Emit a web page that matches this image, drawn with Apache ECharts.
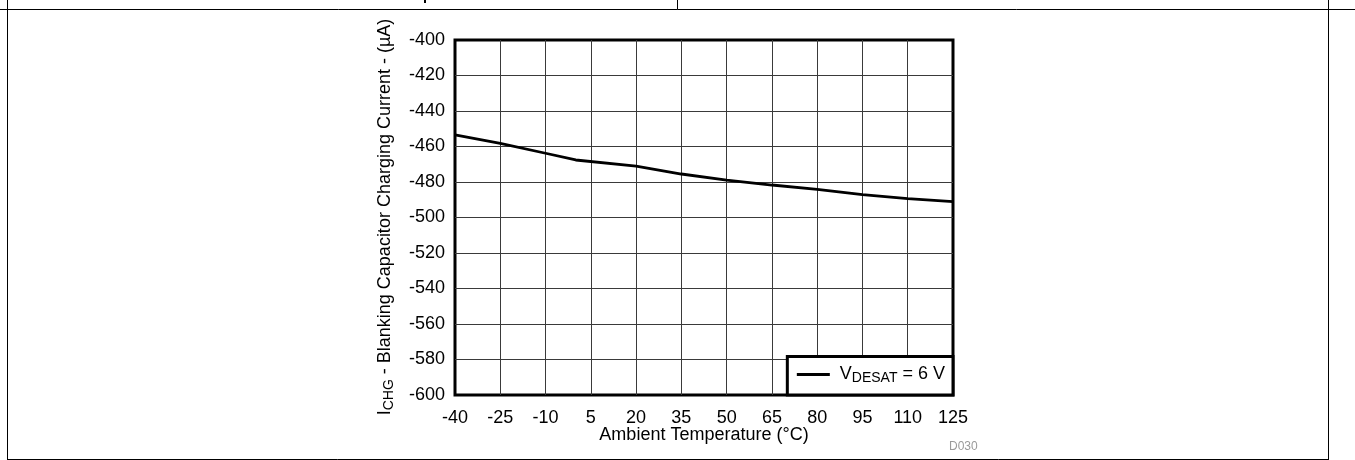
<!DOCTYPE html>
<html>
<head>
<meta charset="utf-8">
<script src="https://cdn.jsdelivr.net/npm/echarts@6/dist/echarts.min.js"></script>
<style>
html,body{margin:0;padding:0;background:#fff;}
#c{width:1355px;height:460px;}
</style>
</head>
<body>
<div id="c"></div>
<script>
// ---- data ----
const temperatures = [-40, -25, -10, 0, 20, 35, 50, 65, 80, 95, 110, 125];
const chargingCurrent = [-453.5, -458.2, -463.8, -467.6, -471.0, -475.5, -478.9, -481.7, -484.1, -487.1, -489.4, -491.0];
const xTickLabels = [-40, -25, -10, 5, 20, 35, 50, 65, 80, 95, 110, 125];
const yTickLabels = [-400, -420, -440, -460, -480, -500, -520, -540, -560, -580, -600];
const seriesName = 'VDESAT = 6 V';

const X0 = xTickLabels[0];
const seriesData = temperatures.map((t, i) => [t - X0, chargingCurrent[i]]);

const FONT = 'Liberation Sans, Arial, sans-serif';
const chart = echarts.init(document.getElementById('c'), null, {renderer: 'canvas'});

const option = {
  animation: false,
  backgroundColor: '#fff',
  grid: {
    left: 455, top: 40, width: 498, height: 355,
    show: true, borderColor: '#000', borderWidth: 3, backgroundColor: 'transparent'
  },
  xAxis: {
    type: 'value',
    min: 0, max: xTickLabels[xTickLabels.length - 1] - X0, interval: 15,
    axisLine: {show: false},
    axisTick: {show: false},
    axisLabel: {
      margin: 14, color: '#000', fontSize: 18, fontFamily: FONT,
      formatter: v => String(v + X0)
    },
    splitLine: {show: true, showMinLine: false, showMaxLine: false, lineStyle: {color: '#3a3a3a', width: 1}}
  },
  yAxis: {
    type: 'value',
    min: yTickLabels[yTickLabels.length - 1], max: yTickLabels[0], interval: 20,
    axisLine: {show: false},
    axisTick: {show: false},
    axisLabel: {margin: 10, color: '#000', fontSize: 18, fontFamily: FONT},
    splitLine: {show: true, showMinLine: false, showMaxLine: false, lineStyle: {color: '#3a3a3a', width: 1}}
  },
  legend: {
    show: true,
    right: 402, bottom: 65,
    orient: 'horizontal',
    backgroundColor: '#fff',
    borderColor: '#000', borderWidth: 3, borderRadius: 0,
    padding: [9, 8, 9.5, 9.5],
    itemWidth: 33, itemHeight: 14, itemGap: 10,
    data: [{name: seriesName, icon: 'path://M0,0 L33,0 L33,3 L0,3 Z', itemStyle: {color: '#000'}}],
    formatter: () => '{f|V}{s|DESAT}{m| = 6 V}',
    textStyle: {
      color: '#000', fontFamily: FONT,
      rich: {
        f: {fontSize: 18, lineHeight: 22, fontFamily: FONT, color: '#000', padding: [0, 0, 0, 5]},
        m: {fontSize: 18, lineHeight: 22, fontFamily: FONT, color: '#000'},
        s: {fontSize: 14, lineHeight: 15, verticalAlign: 'bottom', fontFamily: FONT, color: '#000'}
      }
    },
    z: 10
  },
  series: [{
    name: seriesName,
    type: 'line',
    data: seriesData,
    showSymbol: false,
    symbol: 'none',
    smooth: false,
    lineStyle: {color: '#000', width: 2.8},
    itemStyle: {color: '#000'},
    z: 3
  }],
  graphic: [
    // page frame
    {type: 'line', shape: {x1: 0, y1: 9.5, x2: 1355, y2: 9.5}, style: {stroke: '#000', lineWidth: 1}},
    {type: 'line', shape: {x1: 677.5, y1: 0, x2: 677.5, y2: 9.5}, style: {stroke: '#000', lineWidth: 1}},
    {type: 'line', shape: {x1: 7.5, y1: 0, x2: 7.5, y2: 460}, style: {stroke: '#000', lineWidth: 1}},
    {type: 'line', shape: {x1: 1328.5, y1: 0, x2: 1328.5, y2: 460}, style: {stroke: '#000', lineWidth: 1}},
    {type: 'line', shape: {x1: 7.5, y1: 459.5, x2: 1328.5, y2: 459.5}, style: {stroke: '#000', lineWidth: 1}},
    {type: 'rect', shape: {x: 424, y: 0, width: 2, height: 3}, style: {fill: '#000'}},
    // x axis name
    {
      type: 'text', x: 704, y: 435,
      style: {text: 'Ambient Temperature (°C)', font: '18px ' + FONT, fill: '#000', align: 'center', verticalAlign: 'middle'}
    },
    // y axis name (rotated)
    {
      type: 'text', x: 385, y: 217, rotation: Math.PI / 2,
      style: {
        text: '{m|I}{s|CHG}{m| - Blanking Capacitor Charging Current - (µA)}',
        align: 'center', verticalAlign: 'middle',
        rich: {
          m: {fontSize: 18, lineHeight: 22, fontFamily: FONT, fill: '#000'},
          s: {fontSize: 14, lineHeight: 15, verticalAlign: 'bottom', fontFamily: FONT, fill: '#000'}
        }
      }
    },
    // figure id
    {
      type: 'text', x: 949, y: 447,
      style: {text: 'D030', font: '12px ' + FONT, fill: '#9a9a9a', align: 'left', verticalAlign: 'middle'}
    }
  ]
};
chart.setOption(option);
</script>
</body>
</html>
